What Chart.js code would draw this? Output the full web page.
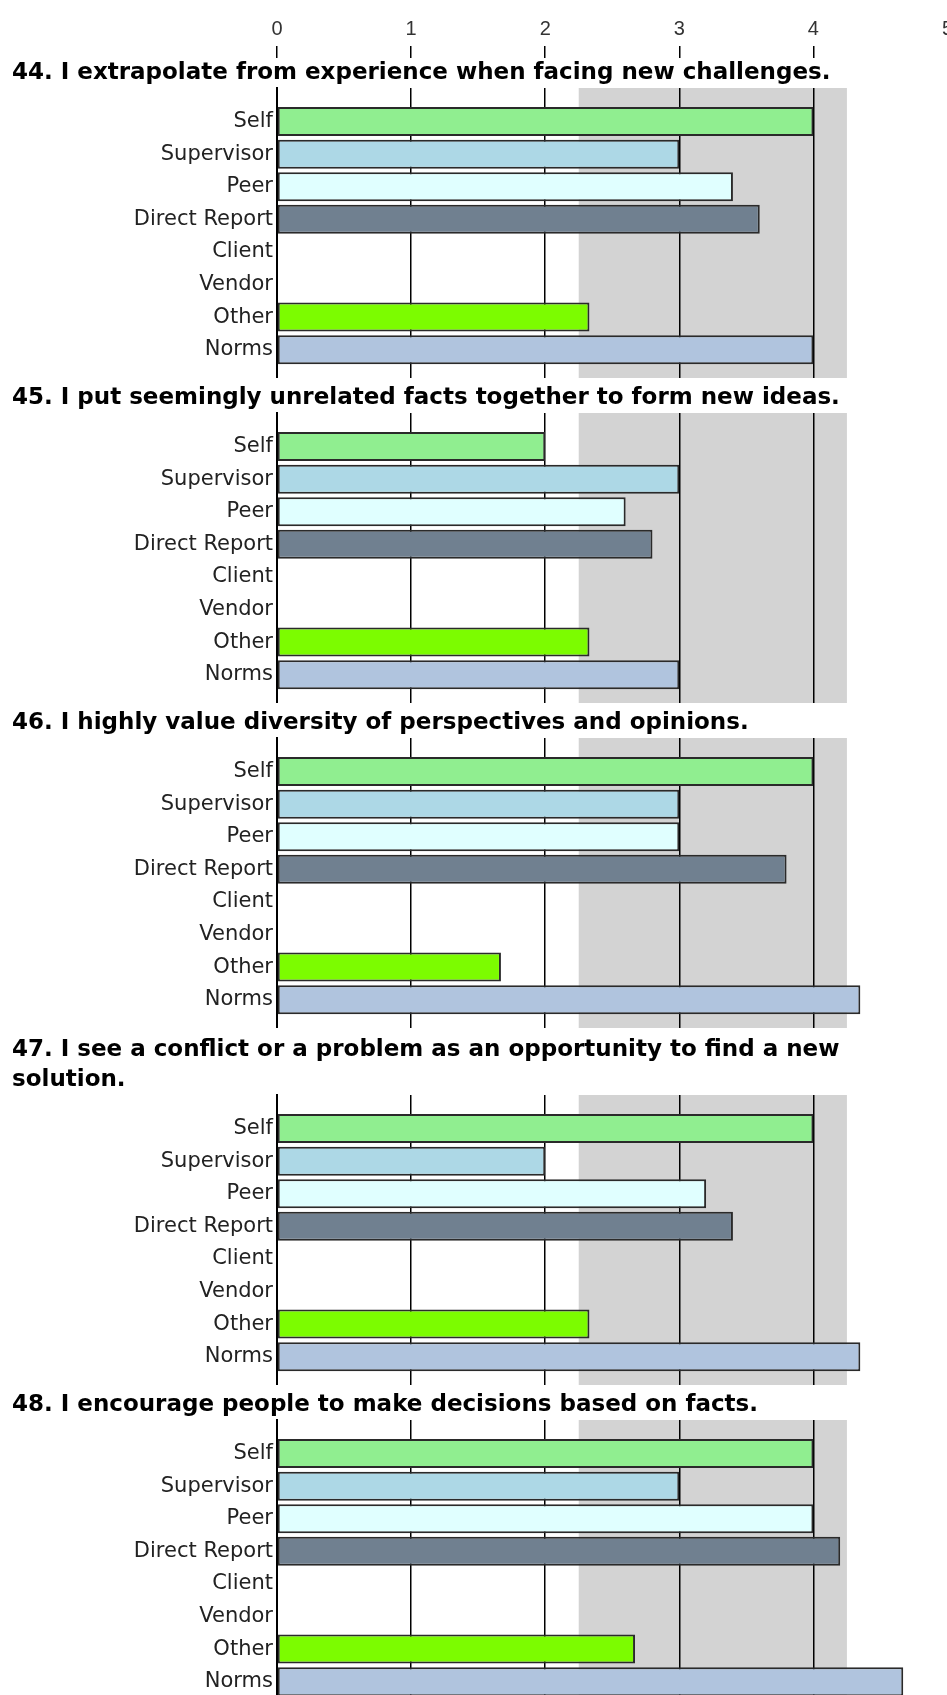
<!DOCTYPE html>
<html>
<head>
<meta charset="utf-8">
<title>Innovation items - rater comparison</title>
<script src="https://cdn.jsdelivr.net/npm/chart.js@4.4.1/dist/chart.umd.min.js"></script>
<style>
  html, body { margin: 0; padding: 0; background: #fff; overflow: hidden; }
  #page { position: relative; width: 947px; height: 1695px; overflow: hidden; }
  #page canvas { position: absolute; left: 0; }
</style>
</head>
<body>
<div id="page">
  <canvas id="axis-top" width="960" height="130" style="top:0px"></canvas>
  <canvas id="q44" width="960" height="320" style="top:58px"></canvas>
  <canvas id="q45" width="960" height="320" style="top:383px"></canvas>
  <canvas id="q46" width="960" height="320" style="top:708px"></canvas>
  <canvas id="q47" width="960" height="350" style="top:1035px"></canvas>
  <canvas id="q48" width="960" height="320" style="top:1390px"></canvas>
</div>
<script>
// Rater groups, one row each in every panel
const categories = ['Self', 'Supervisor', 'Peer', 'Direct Report', 'Client', 'Vendor', 'Other', 'Norms'];

// Item wording
const q44Title = '44. I extrapolate from experience when facing new challenges.';
const q45Title = '45. I put seemingly unrelated facts together to form new ideas.';
const q46Title = '46. I highly value diversity of perspectives and opinions.';
const q47Title = ['47. I see a conflict or a problem as an opportunity to find a new', 'solution.'];
const q48Title = '48. I encourage people to make decisions based on facts.';

// Average ratings per rater group (null = no raters)
const q44Scores = [4, 3, 3.4, 3.6, null, null, 2.33, 4];
const q45Scores = [2, 3, 2.6, 2.8, null, null, 2.33, 3];
const q46Scores = [4, 3, 3, 3.8, null, null, 1.67, 4.35];
const q47Scores = [4, 2, 3.2, 3.4, null, null, 2.33, 4.35];
const q48Scores = [4, 3, 4, 4.2, null, null, 2.67, 4.67];

// Rating scale and the shaded norm range
const scaleMin = 0;
const scaleMax = 5;
const normBand = [2.25, 4.25];

// Colours per rater group
const groupColors = ['#90ee90', '#add8e6', '#e0ffff', '#708090', '#ffffff', '#ffffff', '#7cfc00', '#b0c4de'];

Chart.defaults.font.family = "'DejaVu Sans', sans-serif";
Chart.defaults.color = '#222';

// Grey norm band, drawn under grid and bars
const normBandPlugin = {
    id: 'normBand',
    beforeDraw(chart) {
        const { ctx, chartArea, scales } = chart;
        const left = scales.x.getPixelForValue(normBand[0]);
        const right = scales.x.getPixelForValue(normBand[1]);
        ctx.save();
        ctx.fillStyle = '#d3d3d3';
        ctx.fillRect(left, chartArea.top, right - left, chartArea.bottom - chartArea.top);
        ctx.restore();
    }
};

// Shared top axis with the 0..5 scale
function renderTopAxis(canvasId) {
    const ctx = document.getElementById(canvasId);
    return new Chart(ctx, {
        type: 'bar',
        data: { labels: [], datasets: [] },
        options: {
            responsive: false,
            animation: false,
            devicePixelRatio: 1,
            indexAxis: 'y',
            layout: { padding: { left: 277, right: 12.5, top: 12, bottom: 0 } },
            plugins: { legend: { display: false }, tooltip: { enabled: false } },
            scales: {
                x: {
                    type: 'linear',
                    position: 'top',
                    min: scaleMin,
                    max: scaleMax,
                    ticks: {
                        stepSize: 1,
                        padding: 5,
                        color: '#333',
                        maxRotation: 0,
                        font: { family: "'Liberation Sans', Arial, sans-serif", size: 20 }
                    },
                    grid: {
                        drawOnChartArea: false,
                        drawTicks: true,
                        tickLength: 12,
                        color: '#000',
                        lineWidth: 1.5
                    },
                    border: { display: false }
                },
                y: { display: false }
            }
        }
    });
}

// One item panel: title, grey band, gridlines and one bar per rater group
function renderPanel(canvasId, title, scores) {
    const ctx = document.getElementById(canvasId);
    return new Chart(ctx, {
        type: 'bar',
        data: {
            datasets: [{
                data: scores.map((value, index) => ({ x: value, y: index })),
                backgroundColor: groupColors,
                borderColor: '#2a2a2a',
                borderWidth: 2,
                borderSkipped: false,
                categoryPercentage: 1,
                barPercentage: 0.89
            }]
        },
        options: {
            responsive: false,
            animation: false,
            devicePixelRatio: 1,
            indexAxis: 'y',
            layout: { padding: { left: 12, right: 12.5, top: 0, bottom: 0 } },
            plugins: {
                legend: { display: false },
                tooltip: { enabled: false },
                title: {
                    display: true,
                    text: title,
                    align: 'start',
                    color: '#000',
                    padding: { top: 0, bottom: 0 },
                    font: { family: "'DejaVu Sans', sans-serif", size: 23, weight: 'bold', lineHeight: '30px' }
                }
            },
            scales: {
                x: {
                    type: 'linear',
                    position: 'top',
                    min: scaleMin,
                    max: scaleMax,
                    ticks: { display: false, stepSize: 1 },
                    grid: { color: '#000', lineWidth: 1.5, drawTicks: false },
                    border: { display: false }
                },
                y: {
                    type: 'linear',
                    reverse: true,
                    offset: false,
                    min: -1.03,
                    max: 7.87,
                    ticks: {
                        stepSize: 1,
                        includeBounds: false,
                        autoSkip: false,
                        padding: 4,
                        color: '#222',
                        font: { size: 21 },
                        callback: function (value) {
                            return categories[value] !== undefined ? categories[value] : '';
                        }
                    },
                    grid: { display: false, drawTicks: false, offset: false },
                    border: { display: true, color: '#000', width: 2 },
                    afterFit: function (scale) {
                        scale.width = 265;
                        scale.paddingTop = 0;
                        scale.paddingBottom = 0;
                    }
                }
            }
        },
        plugins: [normBandPlugin]
    });
}

renderTopAxis('axis-top');
renderPanel('q44', q44Title, q44Scores);
renderPanel('q45', q45Title, q45Scores);
renderPanel('q46', q46Title, q46Scores);
renderPanel('q47', q47Title, q47Scores);
renderPanel('q48', q48Title, q48Scores);
</script>
</body>
</html>
